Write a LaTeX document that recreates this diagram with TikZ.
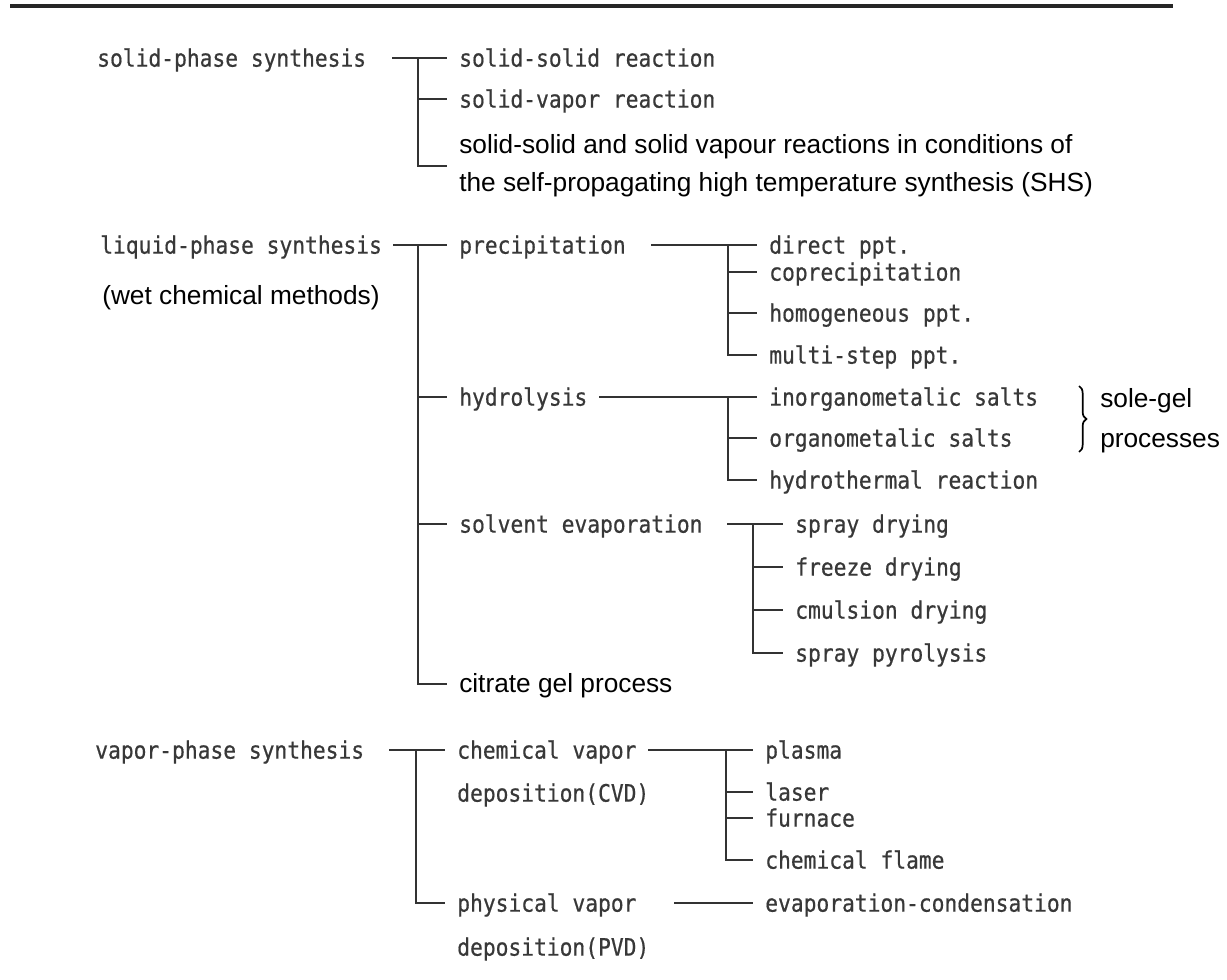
\documentclass[tikz,border=0pt]{standalone}
\usepackage{fontspec}
\setmainfont{Liberation Sans}
\newfontfamily\monofont[FakeStretch=0.886,FakeBold=0.6]{DejaVu Sans Mono}
\usetikzlibrary{decorations.pathreplacing}
\begin{document}
\begin{tikzpicture}[x=0.75pt,y=-0.75pt,
  mono/.style={font=\monofont\fontsize{18pt}{21pt}\selectfont, text=black!78, inner sep=0pt, anchor=west, text height=15pt, text depth=2pt},
  sans/.style={font=\fontsize{19.7pt}{28.5pt}\selectfont, text=black, inner sep=0pt, anchor=west, text height=14pt, text depth=2pt},
  sansml/.style={font=\fontsize{19.7pt}{28.5pt}\selectfont, text=black, inner sep=0pt, anchor=west, align=left},
  conn/.style={draw=black!80, line width=1.3pt},
  tochild/.style={conn, shorten >=9pt},
  rule/.style={draw=black!85, line width=2.8pt},
  bracestyle/.style={draw=black, line width=1.3pt, decorate, decoration={brace, amplitude=5.5pt}}
]
\useasboundingbox (0,0) rectangle (1227,980);
\draw[rule] (10,6) -- (1173,6);

% ---- solid phase
\node[mono] (sps) at (97,58) {solid-phase synthesis};
\node[mono] (ssr) at (459,58) {solid-solid reaction};
\node[mono] (svr) at (459,99) {solid-vapor reaction};
\node[sansml] (shs) at (459,166) {solid-solid and solid vapour reactions in conditions of\\the self-propagating high temperature synthesis (SHS)};
\coordinate (sA) at (392,58);
\coordinate (bA) at (418,58);
\draw[tochild] (sA) -- (ssr.west);
\draw[tochild] (bA) |- (shs.west);
\draw[tochild] (bA |- svr.west) -- (svr.west);

% ---- liquid phase
\node[mono] (lps) at (100,245) {liquid-phase synthesis};
\node[sans] (wcm) at (102,297) {(wet chemical methods)};
\node[mono] (prec) at (459,245) {precipitation};
\node[mono] (hyd) at (459,397) {hydrolysis};
\node[mono] (sev) at (459,524) {solvent evaporation};
\node[sans] (cgp) at (459,684) {citrate gel process};
\coordinate (sB) at (393,245);
\coordinate (bB) at (418,245);
\draw[tochild] (sB) -- (prec.west);
\draw[tochild] (bB) |- (cgp.west);
\draw[tochild] (bB |- hyd.west) -- (hyd.west);
\draw[tochild] (bB |- sev.west) -- (sev.west);

% precipitation
\node[mono] (dppt) at (769,245) {direct ppt.};
\node[mono] (copr) at (769,272) {coprecipitation};
\node[mono] (homo) at (769,313) {homogeneous ppt.};
\node[mono] (mstep) at (769,355) {multi-step ppt.};
\coordinate (sC) at (651,245);
\coordinate (bC) at (728,245);
\draw[tochild] (sC) -- (dppt.west);
\draw[tochild] (bC) |- (mstep.west);
\draw[tochild] (bC |- copr.west) -- (copr.west);
\draw[tochild] (bC |- homo.west) -- (homo.west);

% hydrolysis
\node[mono] (inorg) at (769,397) {inorganometalic salts};
\node[mono] (org) at (769,438) {organometalic salts};
\node[mono] (hydro) at (769,480) {hydrothermal reaction};
\coordinate (sD) at (599,397);
\coordinate (bD) at (728,397);
\draw[tochild] (sD) -- (inorg.west);
\draw[tochild] (bD) |- (hydro.west);
\draw[tochild] (bD |- org.west) -- (org.west);
\draw[bracestyle] (1079,386) -- (1079,452);
\node[sansml, font=\fontsize{19.7pt}{30pt}\selectfont] (solgel) at (1100,421) {sole-gel\\processes};

% solvent evaporation
\node[mono] (spd) at (795,524) {spray drying};
\node[mono] (frz) at (795,567) {freeze drying};
\node[mono] (cmul) at (795,610) {cmulsion drying};
\node[mono] (spp) at (795,653) {spray pyrolysis};
\coordinate (sE) at (727,524);
\coordinate (bE) at (753,524);
\draw[tochild] (sE) -- (spd.west);
\draw[tochild] (bE) |- (spp.west);
\draw[tochild] (bE |- frz.west) -- (frz.west);
\draw[tochild] (bE |- cmul.west) -- (cmul.west);

% ---- vapor phase
\node[mono] (vps) at (95,750) {vapor-phase synthesis};
\node[mono] (cvd) at (457,750) {chemical vapor};
\node[mono] (cvdb) at (457,793) {deposition(CVD)};
\node[mono] (pvd) at (457,903) {physical vapor};
\node[mono] (pvdb) at (457,947) {deposition(PVD)};
\coordinate (sF) at (389,750);
\coordinate (bF) at (416,750);
\draw[tochild] (sF) -- (cvd.west);
\draw[tochild] (bF) |- (pvd.west);

\node[mono] (plasma) at (765,750) {plasma};
\node[mono] (laser) at (765,792) {laser};
\node[mono] (furn) at (765,818) {furnace};
\node[mono] (cfl) at (765,860) {chemical flame};
\coordinate (sG) at (648,750);
\coordinate (bG) at (726,750);
\draw[tochild] (sG) -- (plasma.west);
\draw[tochild] (bG) |- (cfl.west);
\draw[tochild] (bG |- laser.west) -- (laser.west);
\draw[tochild] (bG |- furn.west) -- (furn.west);

\node[mono] (evap) at (765,903) {evaporation-condensation};
\coordinate (sH) at (674,903);
\draw[tochild] (sH) -- (evap.west);
\end{tikzpicture}
\end{document}
